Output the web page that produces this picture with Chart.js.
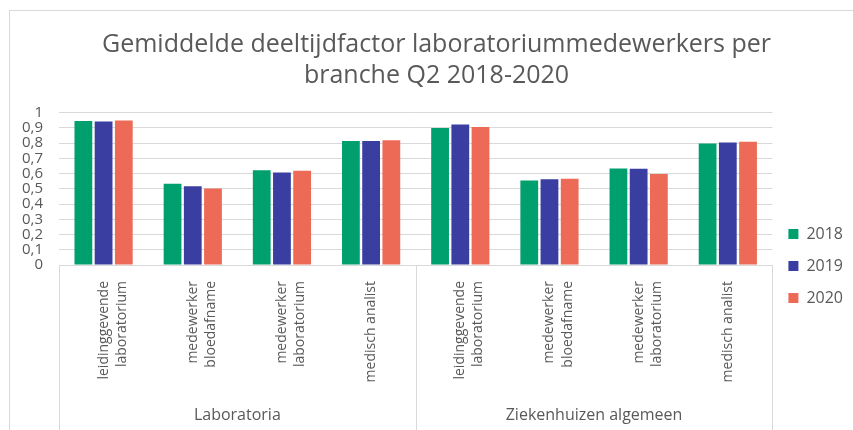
<!DOCTYPE html>
<html>
<head>
<meta charset="utf-8">
<script src="https://cdn.jsdelivr.net/npm/chart.js@4/dist/chart.umd.min.js"></script>
<style>
  html, body { margin: 0; padding: 0; background: #fff; }
  #wrap { position: relative; width: 853px; height: 430px; }
  #frame {
    position: absolute; left: 9px; top: 10px; right: 0; bottom: 0;
    border-top: 1px solid #d9d9d9; border-left: 1px solid #d9d9d9;
    pointer-events: none;
  }
</style>
</head>
<body>
<div id="wrap">
  <canvas id="myChart" width="853" height="430"></canvas>
  <div id="frame"></div>
</div>
<script>
  // Data
  const categories = [
    ['leidinggevende', 'laboratorium'],
    ['medewerker', 'bloedafname'],
    ['medewerker', 'laboratorium'],
    ['medisch analist'],
    ['leidinggevende', 'laboratorium'],
    ['medewerker', 'bloedafname'],
    ['medewerker', 'laboratorium'],
    ['medisch analist']
  ]
  const groups = ['Laboratoria', 'Ziekenhuizen algemeen']
  const years = ['2018', '2019', '2020']
  const values2018 = [0.945, 0.532, 0.622, 0.813, 0.899, 0.554, 0.633, 0.796]
  const values2019 = [0.941, 0.516, 0.607, 0.813, 0.921, 0.563, 0.631, 0.804]
  const values2020 = [0.947, 0.501, 0.618, 0.818, 0.905, 0.565, 0.596, 0.809]
  const colors = ['#00a06e', '#3a3ea0', '#ec6a56']

  const textColor = '#595959'
  const lineColor = '#d9d9d9'
  const fontFamily = "'Open Sans', sans-serif"

  // vertical separators under the axis, between the branch groups
  const groupLines = {
    id: 'groupLines',
    afterDraw(chart) {
      const x2 = chart.scales.x2
      const c = chart.ctx
      const mid = (x2.getPixelForTick(0) + x2.getPixelForTick(1)) / 2
      c.save()
      c.strokeStyle = lineColor
      c.lineWidth = 1
      for (const x of [x2.left, mid, x2.right]) {
        const px = Math.round(x) + 0.5
        c.beginPath()
        c.moveTo(px, chart.chartArea.bottom)
        c.lineTo(px, chart.height)
        c.stroke()
      }
      c.restore()
    }
  }

  const ctx = document.getElementById('myChart')
  new Chart(ctx, {
    type: 'bar',
    data: {
      labels: categories,
      datasets: [
        { label: years[0], data: values2018, backgroundColor: colors[0] },
        { label: years[1], data: values2019, backgroundColor: colors[1] },
        { label: years[2], data: values2020, backgroundColor: colors[2] }
      ]
    },
    options: {
      responsive: false,
      animation: false,
      categoryPercentage: 0.68,
      barPercentage: 0.88,
      layout: { padding: { left: 20, right: 0, top: 0, bottom: 0 } },
      scales: {
        x: {
          position: 'bottom',
          weight: 0,
          grid: { drawOnChartArea: false, drawTicks: false },
          border: { color: lineColor },
          ticks: {
            minRotation: 90,
            maxRotation: 90,
            padding: 16,
            color: textColor,
            font: { family: fontFamily, size: 14, lineHeight: 1.3 }
          },
          afterFit(scale) { scale.height = 130 }
        },
        x2: {
          type: 'category',
          position: 'bottom',
          weight: 1,
          labels: groups,
          offset: true,
          grid: { display: false },
          border: { display: false },
          ticks: {
            padding: 3,
            color: textColor,
            font: { family: fontFamily, size: 16 }
          },
          afterFit(scale) { scale.height = 35 }
        },
        y: {
          min: 0,
          max: 1,
          grid: { color: lineColor, drawTicks: false },
          border: { display: false },
          ticks: {
            stepSize: 0.1,
            autoSkip: false,
            padding: 16,
            color: textColor,
            font: { family: fontFamily, size: 15 },
            callback: v => String(Number(v.toFixed(1))).replace('.', ',')
          },
          afterFit(scale) { scale.width = 39 }
        }
      },
      plugins: {
        title: {
          display: true,
          text: ['Gemiddelde deeltijdfactor laboratoriummedewerkers per', 'branche Q2 2018-2020'],
          color: textColor,
          font: { family: fontFamily, size: 25, weight: 'normal', lineHeight: 1.25 },
          padding: { top: 29, bottom: 21 }
        },
        legend: {
          position: 'right',
          title: {
            display: true,
            text: ' ',
            font: { size: 10 },
            padding: { top: 45, bottom: 45 }
          },
          labels: {
            boxWidth: 10,
            boxHeight: 10,
            padding: 16,
            color: textColor,
            font: { family: fontFamily, size: 16 }
          }
        },
        tooltip: { enabled: false }
      }
    },
    plugins: [groupLines]
  })
</script>
</body>
</html>
